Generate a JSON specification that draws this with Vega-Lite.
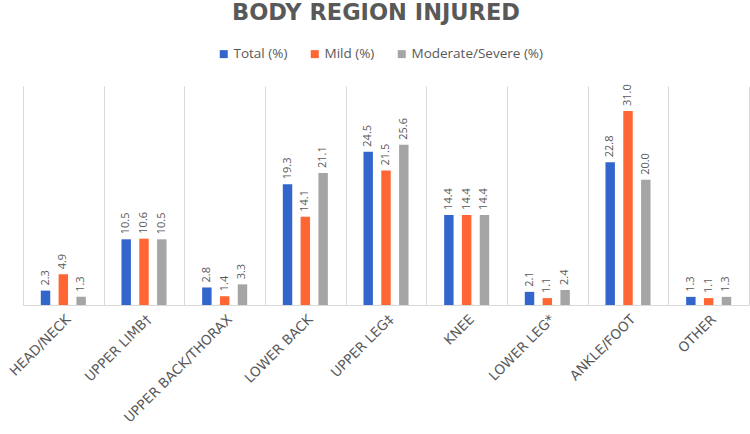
{
  "$schema": "https://vega.github.io/schema/vega-lite/v6.json",
  "width": 726,
  "height": 219,
  "autosize": {"type": "none"},
  "padding": {"left": 23, "top": 86, "right": 1, "bottom": 129},
  "background": "white",
  "title": {
    "text": "BODY REGION INJURED",
    "anchor": "middle",
    "frame": "group",
    "dx": -10,
    "offset": 23,
    "fontSize": 22.5,
    "font": "DejaVu Sans",
    "fontWeight": "bold",
    "color": "#595959"
  },
  "data": {
    "values": [
      {"region": "HEAD/NECK", "series": "Total (%)", "value": 2.3},
      {"region": "HEAD/NECK", "series": "Mild (%)", "value": 4.9},
      {"region": "HEAD/NECK", "series": "Moderate/Severe (%)", "value": 1.3},
      {"region": "UPPER LIMB†", "series": "Total (%)", "value": 10.5},
      {"region": "UPPER LIMB†", "series": "Mild (%)", "value": 10.6},
      {"region": "UPPER LIMB†", "series": "Moderate/Severe (%)", "value": 10.5},
      {"region": "UPPER BACK/THORAX", "series": "Total (%)", "value": 2.8},
      {"region": "UPPER BACK/THORAX", "series": "Mild (%)", "value": 1.4},
      {"region": "UPPER BACK/THORAX", "series": "Moderate/Severe (%)", "value": 3.3},
      {"region": "LOWER BACK", "series": "Total (%)", "value": 19.3},
      {"region": "LOWER BACK", "series": "Mild (%)", "value": 14.1},
      {"region": "LOWER BACK", "series": "Moderate/Severe (%)", "value": 21.1},
      {"region": "UPPER LEG‡", "series": "Total (%)", "value": 24.5},
      {"region": "UPPER LEG‡", "series": "Mild (%)", "value": 21.5},
      {"region": "UPPER LEG‡", "series": "Moderate/Severe (%)", "value": 25.6},
      {"region": "KNEE", "series": "Total (%)", "value": 14.4},
      {"region": "KNEE", "series": "Mild (%)", "value": 14.4},
      {"region": "KNEE", "series": "Moderate/Severe (%)", "value": 14.4},
      {"region": "LOWER LEG*", "series": "Total (%)", "value": 2.1},
      {"region": "LOWER LEG*", "series": "Mild (%)", "value": 1.1},
      {"region": "LOWER LEG*", "series": "Moderate/Severe (%)", "value": 2.4},
      {"region": "ANKLE/FOOT", "series": "Total (%)", "value": 22.8},
      {"region": "ANKLE/FOOT", "series": "Mild (%)", "value": 31.0},
      {"region": "ANKLE/FOOT", "series": "Moderate/Severe (%)", "value": 20.0},
      {"region": "OTHER", "series": "Total (%)", "value": 1.3},
      {"region": "OTHER", "series": "Mild (%)", "value": 1.1},
      {"region": "OTHER", "series": "Moderate/Severe (%)", "value": 1.3}
    ]
  },
  "encoding": {
    "x": {
      "field": "region",
      "type": "nominal",
      "sort": null,
      "title": null,
      "scale": {"paddingInner": 0, "paddingOuter": 0},
      "axis": {
        "grid": true,
        "gridColor": "#D9D9D9",
        "gridWidth": 1,
        "tickBand": "extent",
        "ticks": false,
        "domainColor": "#D9D9D9",
        "labelAngle": -45,
        "labelFont": "DejaVu Sans",
        "labelFontSize": 13.5,
        "labelColor": "#595959",
        "labelPadding": 7
      }
    },
    "xOffset": {
      "field": "series",
      "type": "nominal",
      "sort": ["Total (%)", "Mild (%)", "Moderate/Severe (%)"],
      "scale": {"paddingInner": 0.47, "paddingOuter": 1.1}
    },
    "y": {
      "field": "value",
      "type": "quantitative",
      "scale": {"domain": [0, 35], "nice": false},
      "axis": null
    },
    "color": {
      "field": "series",
      "type": "nominal",
      "sort": ["Total (%)", "Mild (%)", "Moderate/Severe (%)"],
      "scale": {
        "domain": ["Total (%)", "Mild (%)", "Moderate/Severe (%)"],
        "range": ["#3366CC", "#FF6633", "#A5A5A5"]
      },
      "legend": {
        "title": null,
        "orient": "none",
        "legendX": 194,
        "legendY": -39,
        "direction": "horizontal",
        "symbolType": "square",
        "symbolSize": 64,
        "symbolStrokeWidth": 0,
        "labelFont": "Open Sans",
        "labelFontSize": 13.5,
        "labelColor": "#595959",
        "labelOffset": 3,
        "columnPadding": 20
      }
    }
  },
  "layer": [
    {"mark": {"type": "bar"}},
    {
      "mark": {
        "type": "text",
        "angle": -90,
        "align": "left",
        "baseline": "middle",
        "dx": 5,
        "font": "Open Sans",
        "fontSize": 11,
        "color": "#595959"
      },
      "encoding": {
        "text": {"field": "value", "type": "quantitative", "format": ".1f"},
        "color": {"value": "#595959"}
      }
    }
  ],
  "config": {"view": {"stroke": null}}
}
